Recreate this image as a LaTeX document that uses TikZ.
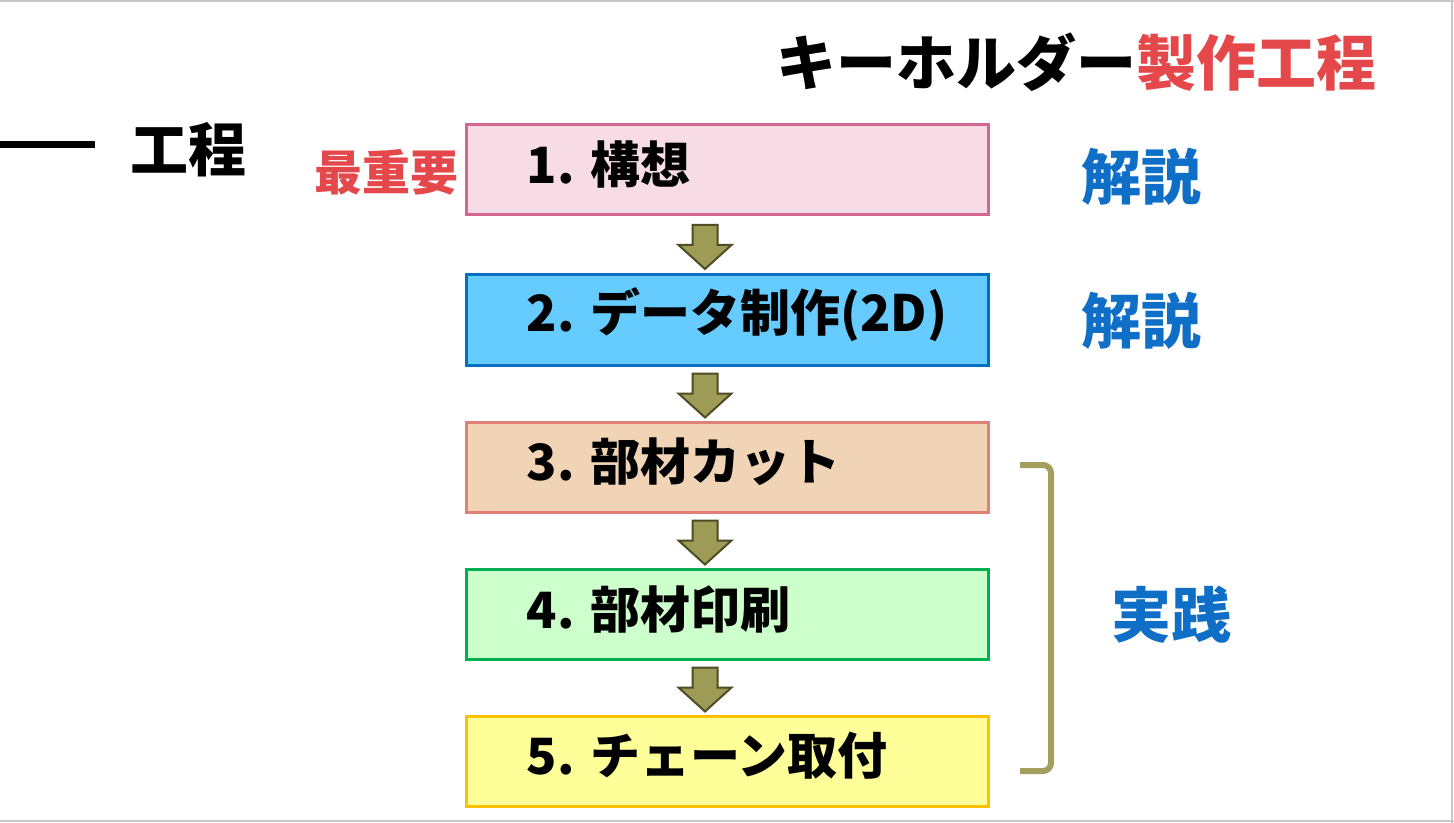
\documentclass[tikz,border=0pt]{standalone}
\usepackage{fontspec}
\setmainfont{Noto Sans CJK JP}
\usetikzlibrary{calc}
\definecolor{tred}{HTML}{E5484B}
\definecolor{tblue}{HTML}{0F6FC6}
\definecolor{olivef}{HTML}{9D9B55}
\definecolor{olived}{HTML}{4D4D26}
\definecolor{brk}{HTML}{A39D5E}
\definecolor{f1}{HTML}{F7DCE6}\definecolor{d1}{HTML}{D4678F}
\definecolor{f2}{HTML}{66CCFF}\definecolor{d2}{HTML}{0070C0}
\definecolor{f3}{HTML}{F1D3B5}\definecolor{d3}{HTML}{E08078}
\definecolor{f4}{HTML}{CCFFCC}\definecolor{d4}{HTML}{00B050}
\definecolor{f5}{HTML}{FFFF99}\definecolor{d5}{HTML}{FFC000}
\tikzset{
  stepbox/.style={draw, line width=1.5pt, minimum width=261pt, minimum height=45pt, inner sep=0pt},
  steptext/.style={anchor=west, xshift=31pt, yshift=2.5pt, inner sep=0pt,
    font=\bfseries\fontsize{25}{29}\selectfont},
  blockarr/.style={fill=olivef, draw=olived, line width=1pt, line join=miter},
  bigtxt/.style={font=\bfseries\fontsize{30}{35}\selectfont, inner sep=0pt},
  midtxt/.style={font=\bfseries\fontsize{24}{28}\selectfont, inner sep=0pt},
}
\begin{document}
\begin{tikzpicture}[x=0.5pt,y=-0.5pt]
\useasboundingbox (0,0) rectangle (1454,823);
\fill[white] (0,0) rectangle (1454,823);
\draw[black!22, line width=1pt] (0,1) -- (1454,1);
\draw[black!22, line width=1pt] (0,821) -- (1454,821);
\draw[black!22, line width=1pt] (1452,0) -- (1452,823);

% title
\node[bigtxt, anchor=center] (title) at (1076,62) {キーホルダー\textcolor{tred}{製作工程}};

% left partial heading
\draw[line width=3.5pt] (0,145) -- (95,145);
\node[font=\bfseries\fontsize{29}{34}\selectfont, inner sep=0pt] (koutei) at (188,150) {工程};

% boxes
\node[stepbox, fill=f1, draw=d1, label={[steptext]west:1. 構想}] (b1) at (727,170) {};
\node[stepbox, fill=f2, draw=d2, label={[steptext]west:2. データ制作(2D)}] (b2) at (727,320) {};
\node[stepbox, fill=f3, draw=d3, label={[steptext]west:3. 部材カット}] (b3) at (727,467) {};
\node[stepbox, fill=f4, draw=d4, label={[steptext]west:4. 部材印刷}] (b4) at (727,614) {};
\node[stepbox, fill=f5, draw=d5, label={[steptext]west:5. チェーン取付}] (b5) at (727,761) {};

% block arrows between boxes
\foreach \a/\b in {1/2,2/3,3/4,4/5}{
  \coordinate (m\a) at ($($(b\a.south)!0.5!(b\b.north)$)+(-22,2)$);
  \draw[blockarr] ($(m\a)+(-12.5,-22)$) -- ($(m\a)+(12.5,-22)$) -- ($(m\a)+(12.5,-2)$)
    -- ($(m\a)+(26.5,-2)$) -- ($(m\a)+(0,22)$) -- ($(m\a)+(-26.5,-2)$)
    -- ($(m\a)+(-12.5,-2)$) -- cycle;
}

% side labels
\node[midtxt, text=tred] (most) at (386,172) {最重要};
\node[bigtxt, text=tblue] (k1) at (1141,177) {解説};
\node[bigtxt, text=tblue] (k2) at (1141,321) {解説};
\node[bigtxt, text=tblue] (jissen) at (1171,615) {実践};

% bracket
\coordinate (bt) at (1020,465);
\coordinate (bb) at (1020,771);
\draw[brk, line width=3pt, rounded corners=4pt] (bt) -- ++(31,0) -- ($(bb)+(31,0)$) -- (bb);
\end{tikzpicture}
\end{document}
